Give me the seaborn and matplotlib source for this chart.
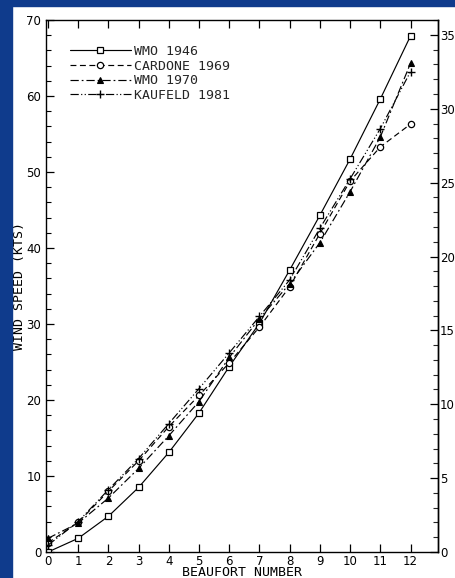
import numpy as np
import pandas as pd
import matplotlib
matplotlib.use("Agg")
import matplotlib.pyplot as plt
import seaborn as sns
from matplotlib.legend_handler import HandlerLine2D
from matplotlib.patches import Rectangle
from matplotlib.ticker import MultipleLocator

# ---- data ----
beaufort = list(range(13))
wmo_1946 = [0.0, 1.8, 4.7, 8.5, 13.1, 18.3, 24.4, 30.1, 37.1, 44.3, 51.7, 59.6, 67.9]
cardone_1969 = [1.2, 3.9, 8.0, 12.0, 16.5, 20.6, 24.9, 29.6, 34.9, 41.9, 48.8, 53.3, 56.3]
wmo_1970 = [1.8, 3.8, 7.1, 11.0, 15.3, 19.8, 25.6, 30.7, 35.3, 40.7, 47.4, 54.6, 64.3]
kaufeld_1981 = [0.9, 4.0, 8.2, 12.3, 16.9, 21.5, 26.2, 31.0, 35.8, 42.6, 49.1, 55.7, 63.2]
series_names = ["WMO 1946", "CARDONE 1969", "WMO 1970", "KAUFELD 1981"]
x_ticks = list(range(13))
y_ticks = [0, 10, 20, 30, 40, 50, 60, 70]
ms_ticks = [0, 5, 10, 15, 20, 25, 30, 35]

df = pd.DataFrame({
    "beaufort": beaufort * 4,
    "kts": wmo_1946 + cardone_1969 + wmo_1970 + kaufeld_1981,
    "source": sum([[n] * len(beaufort) for n in series_names], []),
})

sns.set_theme(style="white")
plt.rcParams["font.family"] = ["DejaVu Sans"]

fig = plt.figure(figsize=(4.55, 5.78), dpi=100)
ax = fig.add_axes([46 / 455, 26 / 578, 392 / 455, 532 / 578])

styles = {
    "WMO 1946": dict(marker="s", linestyle="-", ms=4.5, mfc="white", mec="black", mew=0.9),
    "CARDONE 1969": dict(marker="o", linestyle=(0, (5, 3)), ms=4.5, mfc="white", mec="black", mew=0.9),
    "WMO 1970": dict(marker="^", linestyle=(0, (7, 2.5, 1.5, 2.5)), ms=4, mfc="black", mec="black", mew=0.8),
    "KAUFELD 1981": dict(marker="+", linestyle=(0, (7, 2, 1, 2, 1, 2)), ms=5.5, mfc="black", mec="black", mew=1.0),
}

for name in series_names:
    sub = df[df["source"] == name]
    sns.lineplot(data=sub, x="beaufort", y="kts", ax=ax, color="black", lw=0.85,
                 label=name, **styles[name])
h, l = ax.get_legend_handles_labels()


class LeftMarkerHandler(HandlerLine2D):
    def get_xdata(self, legend, xdescent, ydescent, width, height, fontsize):
        xdata = np.array([-xdescent, -xdescent + width])
        return xdata, np.array([-xdescent + 1.0])


mono = "DejaVu Sans Mono"
leg = ax.legend(h, l, loc="upper left", bbox_to_anchor=(0.061, 0.953), frameon=False,
                handlelength=4.6, handletextpad=0.25, labelspacing=0.12,
                borderpad=0, borderaxespad=0,
                handler_map={type(h[0]): LeftMarkerHandler()},
                prop={"family": mono, "size": 9.5})

ax.set_xlim(-0.066, 12.91)
ax.set_ylim(0, 70)
ax.set_xticks(x_ticks)
ax.set_yticks(y_ticks)
ax.yaxis.set_minor_locator(MultipleLocator(2))
ax.tick_params(axis="both", which="both", direction="in", colors="black", labelsize=8.5)
ax.tick_params(axis="x", which="major", length=6, width=0.9, top=True, bottom=True, pad=2)
ax.tick_params(axis="y", which="major", length=6, width=0.9, left=True, right=False, pad=3.5)
ax.tick_params(axis="y", which="minor", length=3.5, width=0.8, left=True, right=False)
for s in ax.spines.values():
    s.set_color("black")
    s.set_linewidth(1.0)

ax.set_xlabel("BEAUFORT NUMBER", family=mono, fontsize=9.5, labelpad=-1, color="black")
ax.set_ylabel("WIND SPEED (KTS)", family=mono, fontsize=9.5, color="black")
ax.yaxis.set_label_coords(-0.051, 0.5)

KTS_PER_MS = 1.944
sec = ax.secondary_yaxis("right", functions=(lambda k: k / KTS_PER_MS, lambda m: m * KTS_PER_MS))
sec.set_yticks(ms_ticks)
sec.yaxis.set_minor_locator(MultipleLocator(1))
sec.tick_params(axis="y", which="major", direction="in", length=6, width=0.9, pad=1.5,
                labelsize=8.5, colors="black")
sec.tick_params(axis="y", which="minor", direction="in", length=3.5, width=0.8)
sec.spines["right"].set_linewidth(1.0)
sec.spines["right"].set_color("black")

blue = "#0f3b8c"
fig.add_artist(Rectangle((0, 0), 12 / 455, 1, transform=fig.transFigure, color=blue, zorder=10))
fig.add_artist(Rectangle((0, 1 - 6 / 578), 1, 6 / 578, transform=fig.transFigure, color=blue, zorder=10))

fig.savefig("out.png", dpi=100)
